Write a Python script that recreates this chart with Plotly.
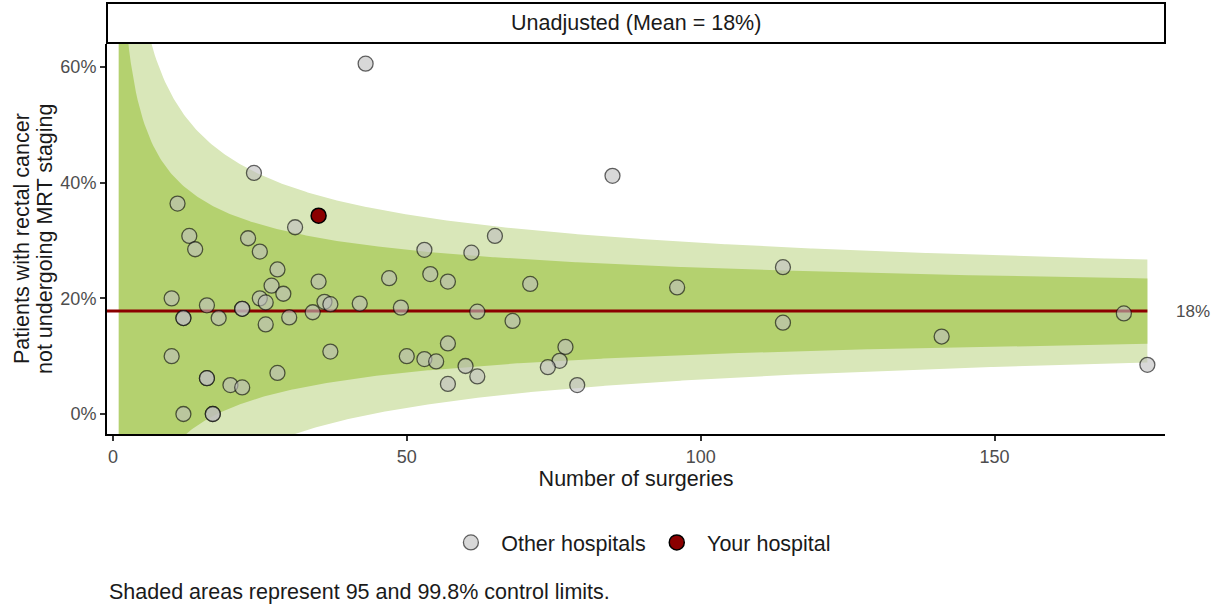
import numpy as np
import plotly.graph_objects as go

# Other hospitals: number of surgeries and share of rectal cancer patients
# not undergoing MRT staging
other_n = [43, 24, 85, 11, 31, 13, 23, 65, 14, 25, 53, 61, 114, 28, 35, 47, 54,
           57, 27, 71, 96, 29, 10, 25, 26, 36, 37, 42, 16, 22, 22, 49, 34, 62,
           172, 12, 12, 18, 30, 68, 26, 114, 141, 57, 77, 37, 10, 50, 53, 55,
           76, 60, 74, 176, 28, 16, 16, 62, 20, 22, 57, 79, 12, 17, 17]
other_rate = [0.606, 0.417, 0.412, 0.364, 0.323, 0.308, 0.304, 0.308, 0.285,
              0.281, 0.284, 0.279, 0.254, 0.250, 0.229, 0.235, 0.242, 0.229,
              0.222, 0.225, 0.219, 0.208, 0.200, 0.200, 0.193, 0.194, 0.190,
              0.191, 0.188, 0.182, 0.182, 0.184, 0.176, 0.177, 0.174, 0.166,
              0.166, 0.166, 0.167, 0.161, 0.155, 0.158, 0.134, 0.122, 0.116,
              0.108, 0.100, 0.100, 0.095, 0.091, 0.092, 0.083, 0.081, 0.085,
              0.071, 0.062, 0.062, 0.065, 0.050, 0.046, 0.052, 0.050, 0.0,
              0.0, 0.0]

# Your hospital
own_n = [35]
own_rate = [0.343]

# Overall mean and control-limit z values (95% and 99.8%)
mean_rate = 0.178
mean_label = "18%"
z_inner = 1.96
z_outer = 3.09

x_range = [-1.0, 179.0]
y_range = [-0.0346, 0.640]
x_ticks = [0, 50, 100, 150]
y_ticks = [0.0, 0.2, 0.4, 0.6]
y_title_lines = ["Patients with rectal cancer", "not undergoing MRT staging"]

FONT = "Liberation Sans, Arial, sans-serif"
TEXT_SIZE = 21.5
TICK_SIZE = 18
BAND_OUTER = "#d9e7b9"
BAND_INNER = "#b4d16f"
DARK_RED = "#8b0000"
PAD = "\u00a0\u2009"

n_max = max(other_n + own_n)
n_grid = np.linspace(1, n_max, 600)
se = np.sqrt(mean_rate * (1 - mean_rate) / n_grid)


def band(z):
    upper = mean_rate + z * se
    lower = mean_rate - z * se
    xs = np.concatenate([n_grid, n_grid[::-1]])
    ys = np.concatenate([upper, lower[::-1]])
    return xs, ys


fig = go.Figure()

for z, color in [(z_outer, BAND_OUTER), (z_inner, BAND_INNER)]:
    bx, by = band(z)
    fig.add_trace(go.Scatter(
        x=bx, y=by, mode="lines", fill="toself", fillcolor=color,
        line=dict(width=0), hoverinfo="skip", showlegend=False))

fig.add_trace(go.Scatter(
    x=[x_range[0], n_max], y=[mean_rate, mean_rate], mode="lines",
    line=dict(color=DARK_RED, width=3), hoverinfo="skip", showlegend=False))

fig.add_trace(go.Scatter(
    x=other_n, y=other_rate, mode="markers",
    name=PAD + "Other hospitals\u00a0",
    marker=dict(size=15, color="rgba(190,190,190,0.6)",
                line=dict(color="rgba(0,0,0,0.6)", width=1.3))))

fig.add_trace(go.Scatter(
    x=own_n, y=own_rate, mode="markers", name=PAD + "Your hospital",
    marker=dict(size=15, color=DARK_RED,
                line=dict(color="black", width=1.5))))

fig.update_layout(
    width=1219, height=609,
    margin=dict(l=107, r=54, t=44, b=175),
    paper_bgcolor="white", plot_bgcolor="white",
    font=dict(family=FONT, color="#1a1a1a"),
    showlegend=True,
    legend=dict(orientation="h", x=0.507, xanchor="center", y=-0.278,
                yanchor="middle", font=dict(size=TEXT_SIZE, color="#1a1a1a"),
                itemsizing="trace"),
    xaxis=dict(range=x_range, tickvals=x_ticks, showgrid=False, zeroline=False,
               showline=True, linecolor="black", linewidth=2,
               ticks="outside", ticklen=5, tickwidth=1.5, tickcolor="#333333",
               tickfont=dict(size=TICK_SIZE, color="#4d4d4d"),
               title=dict(text="Number of surgeries", standoff=4,
                          font=dict(size=TEXT_SIZE, color="#1a1a1a"))),
    yaxis=dict(range=y_range, tickvals=y_ticks, tickformat=".0%",
               showgrid=False, zeroline=False,
               showline=True, linecolor="black", linewidth=2,
               ticks="outside", ticklen=5, tickwidth=1.5, tickcolor="#333333",
               tickfont=dict(size=TICK_SIZE, color="#4d4d4d")),
)

# Y-axis title, two centred lines
for line_text, xpos in zip(y_title_lines, [-0.0803, -0.0586]):
    fig.add_annotation(text=line_text, xref="paper", yref="paper",
                       x=xpos, y=0.5, textangle=-90, showarrow=False,
                       xanchor="center", yanchor="middle",
                       font=dict(size=TEXT_SIZE, color="#1a1a1a"))

# Facet strip
fig.add_shape(type="rect", xref="paper", yref="paper",
              x0=0, x1=1, y0=1.0026, y1=1.105,
              line=dict(color="black", width=2), fillcolor="white")
fig.add_annotation(text="Unadjusted (Mean = 18%)", xref="paper", yref="paper",
                   x=0.5, y=1.054, showarrow=False, xanchor="center",
                   yanchor="middle", font=dict(size=TEXT_SIZE, color="#1a1a1a"))

# Mean label to the right of the panel
fig.add_annotation(text=mean_label, xref="paper", yref="y",
                   x=1.026, y=mean_rate, showarrow=False, xanchor="center",
                   yanchor="middle", font=dict(size=17, color="#4d4d4d"))

# Caption
fig.add_annotation(text="Shaded areas represent 95 and 99.8% control limits.",
                   xref="paper", yref="paper", x=0, y=-0.405,
                   showarrow=False, xanchor="left", yanchor="middle",
                   font=dict(size=TEXT_SIZE, color="#1a1a1a"))

fig.write_html("out.html")
